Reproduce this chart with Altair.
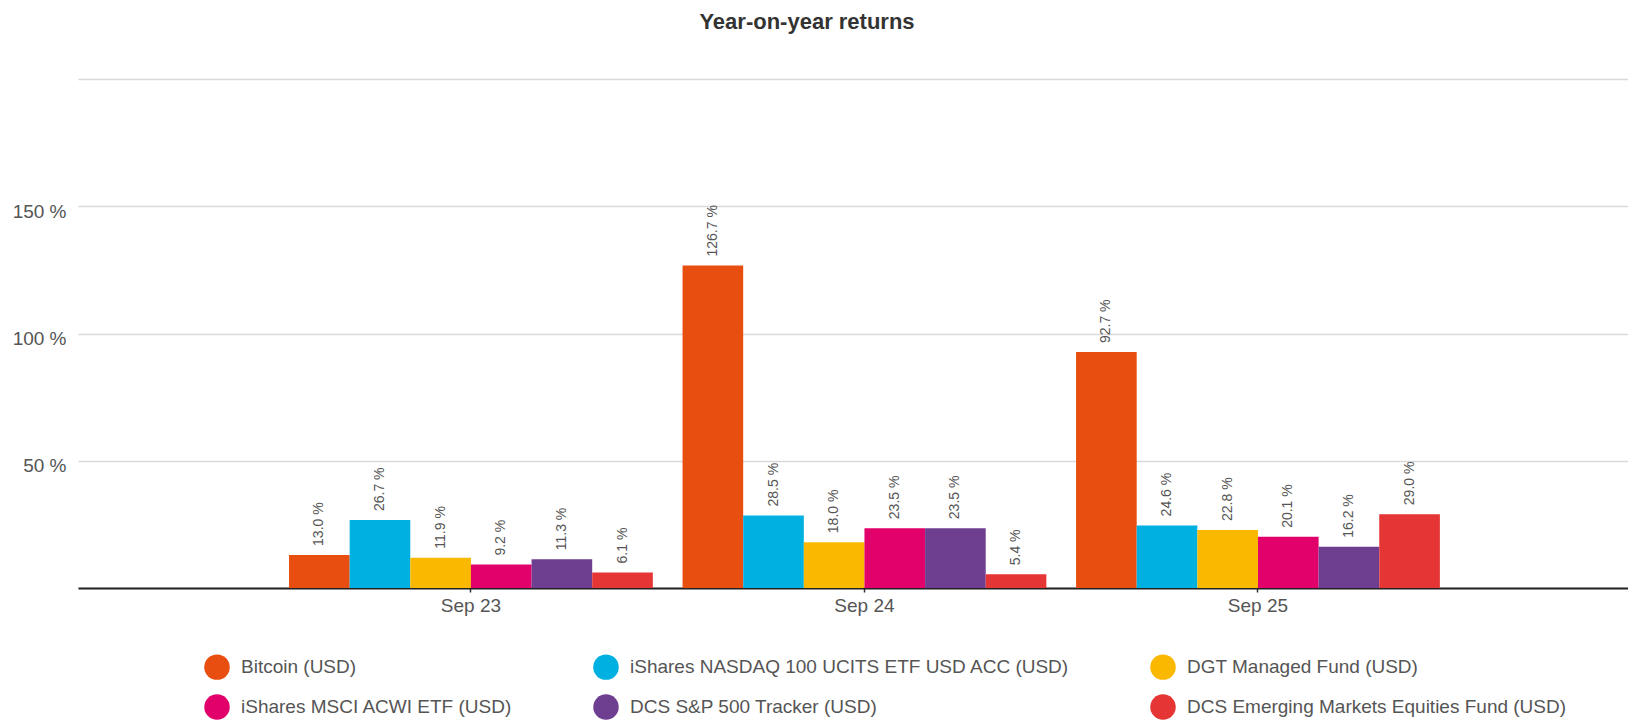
import altair as alt
import pandas as pd

periods = ["Sep 23", "Sep 24", "Sep 25"]
series = [
    "Bitcoin (USD)",
    "iShares NASDAQ 100 UCITS ETF USD ACC (USD)",
    "DGT Managed Fund (USD)",
    "iShares MSCI ACWI ETF (USD)",
    "DCS S&P 500 Tracker (USD)",
    "DCS Emerging Markets Equities Fund (USD)",
]
colors = ["#E84E0F", "#00B0E0", "#FAB800", "#E2006B", "#6E3E91", "#E53535"]

bitcoin = [13.0, 126.7, 92.7]
nasdaq = [26.7, 28.5, 24.6]
dgt = [11.9, 18.0, 22.8]
msci = [9.2, 23.5, 20.1]
sp500 = [11.3, 23.5, 16.2]
em = [6.1, 5.4, 29.0]

y_ticks = [0, 50, 100, 150, 200]

values = [bitcoin, nasdaq, dgt, msci, sp500, em]
rows = []
for s, vals in zip(series, values):
    for p, v in zip(periods, vals):
        rows.append({"period": p, "series": s, "value": v})
df = pd.DataFrame(rows)

FONT = "Liberation Sans"

x_enc = alt.X(
    "period:N",
    sort=periods,
    title=None,
    scale=alt.Scale(paddingInner=0, paddingOuter=0.4694, align=0.531),
    axis=alt.Axis(
        labelAngle=0,
        labelFontSize=19,
        labelColor="#555555",
        labelFont=FONT,
        labelPadding=4,
        tickSize=4,
        tickColor="#333333",
        tickWidth=1.5,
        domainColor="#222222",
        domainWidth=2,
        grid=False,
    ),
)
xoff_enc = alt.XOffset(
    "series:N", sort=series, scale=alt.Scale(paddingInner=0, paddingOuter=0.245)
)
y_enc = alt.Y(
    "value:Q",
    title=None,
    scale=alt.Scale(domain=[0, 200], nice=False),
    axis=alt.Axis(
        values=y_ticks,
        labelExpr="(datum.value == 0 || datum.value == 200) ? '' : datum.value + ' %'",
        labelFontSize=19,
        labelColor="#555555",
        labelFont=FONT,
        labelPadding=12,
        labelOffset=5,
        ticks=False,
        domain=False,
        gridColor="#d9d9d9",
        gridWidth=1.5,
    ),
)

bars = alt.Chart(df).mark_bar().encode(
    x=x_enc,
    xOffset=xoff_enc,
    y=y_enc,
    color=alt.Color(
        "series:N",
        sort=series,
        scale=alt.Scale(domain=series, range=colors),
        legend=alt.Legend(
            title=None,
            orient="none",
            legendX=126,
            legendY=575,
            direction="horizontal",
            columns=3,
            symbolType="circle",
            symbolSize=650,
            symbolStrokeWidth=0,
            symbolOpacity=1,
            labelFontSize=19,
            labelColor="#555555",
            labelFont=FONT,
            labelOffset=11,
            labelLimit=700,
            columnPadding=80,
            rowPadding=14,
            padding=0,
        ),
    ),
)

labels = alt.Chart(df).transform_calculate(
    label="format(datum.value, '.1f') + ' %'"
).mark_text(
    angle=270,
    align="left",
    baseline="middle",
    dx=9,
    fontSize=14,
    font=FONT,
    color="#555555",
).encode(
    x=alt.X("period:N", sort=periods),
    xOffset=alt.XOffset("series:N", sort=series),
    y=alt.Y("value:Q"),
    text="label:N",
)

chart = (
    alt.layer(bars, labels)
    .properties(
        width=1550,
        height=509,
        padding={"left": 4, "top": 3, "right": 0, "bottom": 0},
        title=alt.TitleParams(
            text="Year-on-year returns",
            fontSize=22,
            fontWeight="bold",
            color="#333333",
            font=FONT,
            anchor="middle",
            frame="group",
            dx=-46,
            offset=45,
        ),
    )
    .configure_view(stroke=None)
)

chart.save("out.html", embed_options={"renderer": "svg", "actions": False})
